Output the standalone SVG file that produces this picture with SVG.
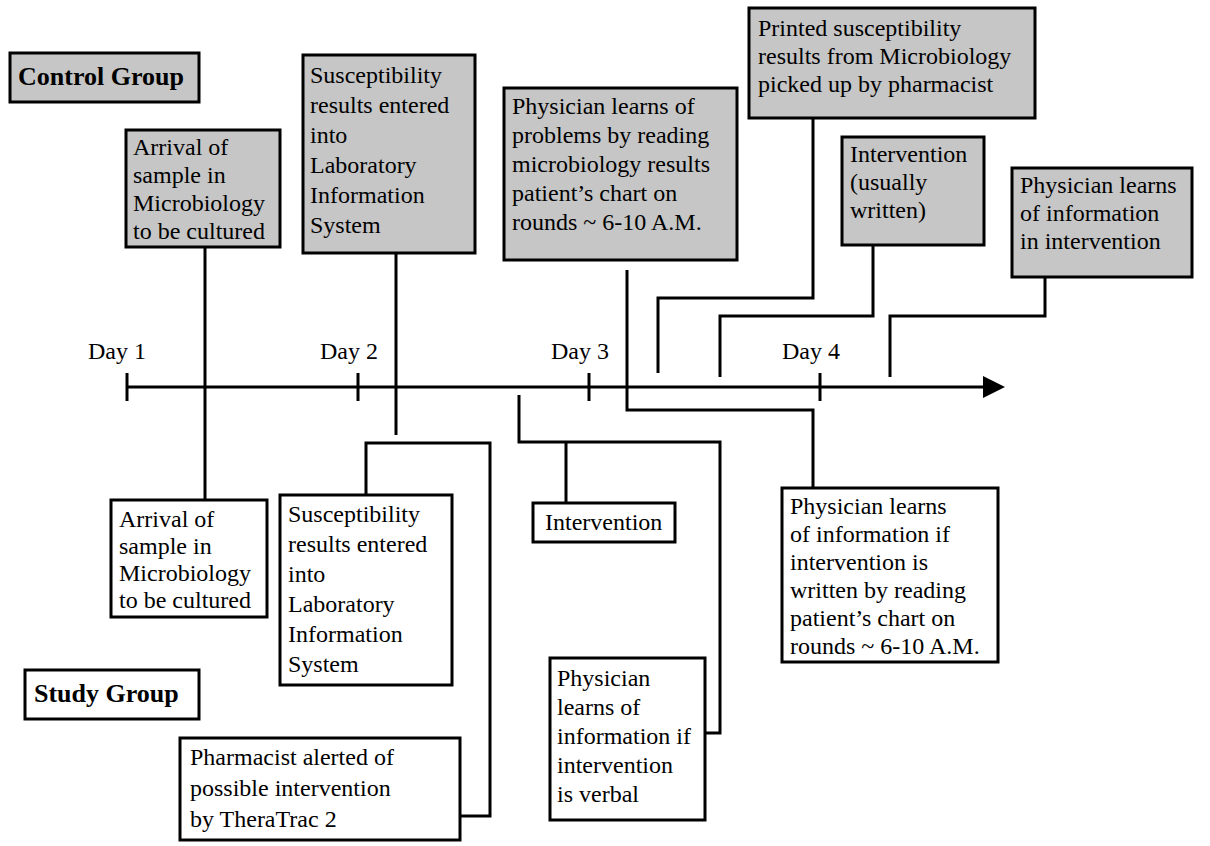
<svg xmlns="http://www.w3.org/2000/svg" width="1210" height="846" viewBox="0 0 1210 846">
<defs>
<style>
.sh{fill:#c6c6c6;stroke:#000;stroke-width:3}
.wb{fill:#fff;stroke:#000;stroke-width:3}
.t{font-family:"Liberation Serif","Times New Roman",serif;font-size:24px;fill:#000}
.b{font-family:"Liberation Serif","Times New Roman",serif;font-size:26px;font-weight:bold;fill:#000}
.c{fill:none;stroke:#000;stroke-width:3}
</style>
</defs>
<rect width="1210" height="846" fill="#fff"/>
<g id="connectors">
<line class="c" x1="127" y1="387" x2="986" y2="387"/>
<polygon points="983,376 1005,387 983,398" fill="#000"/>
<line class="c" x1="127" y1="373" x2="127" y2="401"/>
<line class="c" x1="358" y1="373" x2="358" y2="401"/>
<line class="c" x1="589" y1="373" x2="589" y2="401"/>
<line class="c" x1="820" y1="373" x2="820" y2="401"/>
<text class="t" x="88" y="359">Day 1</text>
<text class="t" x="320" y="359">Day 2</text>
<text class="t" x="551" y="359">Day 3</text>
<text class="t" x="782" y="359">Day 4</text>
<line class="c" x1="205" y1="247" x2="205" y2="500"/>
<line class="c" x1="396" y1="253" x2="396" y2="435"/>
<polyline class="c" points="366,495 366,443 490,443 490,816 460,816"/>
<polyline class="c" points="519,395 519,442 720,442 720,733 705,733"/>
<line class="c" x1="566" y1="442" x2="566" y2="503"/>
<polyline class="c" points="627,270 627,410 813,410 813,488"/>
<polyline class="c" points="813,118 813,298 658,298 658,373"/>
<polyline class="c" points="873,245 873,316 720,316 720,377"/>
<polyline class="c" points="1045,277 1045,316 890,316 890,377"/>
</g>
<g id="control-group">
<rect class="sh" x="10" y="53" width="189" height="49"/>
<text class="b" x="18" y="85">Control Group</text>
</g>
<g id="ctrl-arrival">
<rect class="sh" x="126" y="130" width="154" height="117"/>
<text class="t" x="133" y="155">Arrival of</text>
<text class="t" x="133" y="183">sample in</text>
<text class="t" x="133" y="211">Microbiology</text>
<text class="t" x="133" y="239">to be cultured</text>
</g>
<g id="ctrl-susceptibility">
<rect class="sh" x="303" y="55" width="172" height="198"/>
<text class="t" x="310" y="83">Susceptibility</text>
<text class="t" x="310" y="113">results entered</text>
<text class="t" x="310" y="143">into</text>
<text class="t" x="310" y="173">Laboratory</text>
<text class="t" x="310" y="203">Information</text>
<text class="t" x="310" y="233">System</text>
</g>
<g id="ctrl-physician">
<rect class="sh" x="504" y="88" width="233" height="172"/>
<text class="t" x="512" y="114">Physician learns of</text>
<text class="t" x="512" y="143">problems by reading</text>
<text class="t" x="512" y="172">microbiology results</text>
<text class="t" x="512" y="201">patient’s chart on</text>
<text class="t" x="512" y="230">rounds ~ 6-10 A.M.</text>
</g>
<g id="ctrl-printed">
<rect class="sh" x="749" y="8" width="286" height="110"/>
<text class="t" x="758" y="36">Printed susceptibility</text>
<text class="t" x="758" y="64">results from Microbiology</text>
<text class="t" x="758" y="92">picked up by pharmacist</text>
</g>
<g id="ctrl-intervention">
<rect class="sh" x="842" y="137" width="142" height="108"/>
<text class="t" x="850" y="162">Intervention</text>
<text class="t" x="850" y="190">(usually</text>
<text class="t" x="850" y="218">written)</text>
</g>
<g id="ctrl-physician-info">
<rect class="sh" x="1012" y="168" width="180" height="109"/>
<text class="t" x="1020" y="193">Physician learns</text>
<text class="t" x="1020" y="221">of information</text>
<text class="t" x="1020" y="249">in intervention</text>
</g>
<g id="study-arrival">
<rect class="wb" x="111" y="500" width="156" height="117"/>
<text class="t" x="119" y="527">Arrival of</text>
<text class="t" x="119" y="554">sample in</text>
<text class="t" x="119" y="581">Microbiology</text>
<text class="t" x="119" y="608">to be cultured</text>
</g>
<g id="study-susceptibility">
<rect class="wb" x="280" y="495" width="172" height="190"/>
<text class="t" x="288" y="522">Susceptibility</text>
<text class="t" x="288" y="552">results entered</text>
<text class="t" x="288" y="582">into</text>
<text class="t" x="288" y="612">Laboratory</text>
<text class="t" x="288" y="642">Information</text>
<text class="t" x="288" y="672">System</text>
</g>
<g id="study-intervention">
<rect class="wb" x="533" y="503" width="142" height="39"/>
<text class="t" x="545" y="530">Intervention</text>
</g>
<g id="study-physician-verbal">
<rect class="wb" x="550" y="658" width="155" height="162"/>
<text class="t" x="557" y="686">Physician</text>
<text class="t" x="557" y="715">learns of</text>
<text class="t" x="557" y="744">information if</text>
<text class="t" x="557" y="773">intervention</text>
<text class="t" x="557" y="802">is verbal</text>
</g>
<g id="study-physician-written">
<rect class="wb" x="782" y="488" width="216" height="174"/>
<text class="t" x="790" y="514">Physician learns</text>
<text class="t" x="790" y="542">of information if</text>
<text class="t" x="790" y="570">intervention is</text>
<text class="t" x="790" y="598">written by reading</text>
<text class="t" x="790" y="626">patient’s chart on</text>
<text class="t" x="790" y="654">rounds ~ 6-10 A.M.</text>
</g>
<g id="study-group">
<rect class="wb" x="25" y="670" width="174" height="49"/>
<text class="b" x="34" y="702">Study Group</text>
</g>
<g id="study-pharmacist">
<rect class="wb" x="180" y="738" width="280" height="102"/>
<text class="t" x="190" y="765">Pharmacist alerted of</text>
<text class="t" x="190" y="796">possible intervention</text>
<text class="t" x="190" y="827">by TheraTrac 2</text>
</g>
</svg>
